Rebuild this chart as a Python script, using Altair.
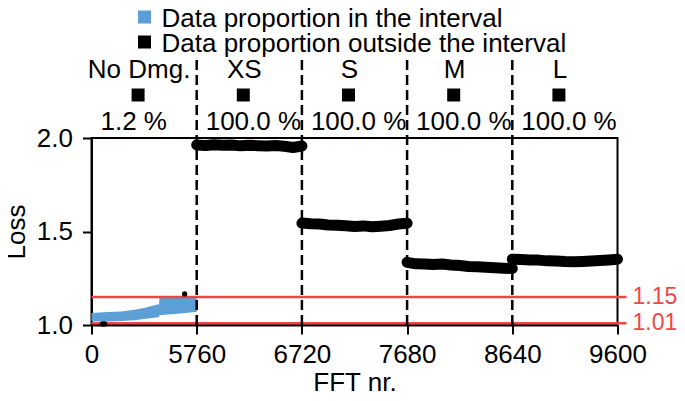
import altair as alt
import pandas as pd

# ---------------- data ----------------
boundaries = [0, 5760, 6720, 7680, 8640, 9600]
categories = ["No Dmg.", "XS", "S", "M", "L"]
pct_outside = [1.2, 100.0, 100.0, 100.0, 100.0]
thresholds = [1.15, 1.01]

# No-damage band (data inside the interval), lower / upper envelope
blue_x = [0, 900, 1630, 2360, 2990, 3540, 3700, 3720, 4175, 4900, 5630, 5760]
blue_lo = [1.020, 1.019, 1.021, 1.025, 1.034, 1.040, 1.043, 1.052, 1.056, 1.061, 1.069, 1.068]
blue_hi = [1.064, 1.069, 1.072, 1.081, 1.094, 1.108, 1.111, 1.148, 1.153, 1.153, 1.153, 1.152]

# No-damage points outside the interval
out_x = [600, 720, 5100]
out_y = [1.006, 1.006, 1.166]

# damaged cases (all outside the interval)
xs_x = [5760, 5840, 5920, 6000, 6080, 6160, 6240, 6320, 6400, 6480, 6560, 6640, 6720]
xs_y = [1.963, 1.960, 1.964, 1.961, 1.963, 1.958, 1.961, 1.959, 1.957, 1.960, 1.956, 1.949, 1.957]
s_x = [6720, 6800, 6880, 6960, 7040, 7120, 7200, 7280, 7360, 7440, 7520, 7600, 7680]
s_y = [1.545, 1.541, 1.540, 1.535, 1.534, 1.531, 1.527, 1.530, 1.525, 1.528, 1.532, 1.540, 1.544]
m_x = [7680, 7760, 7840, 7920, 8000, 8080, 8160, 8240, 8320, 8400, 8480, 8560, 8640]
m_y = [1.335, 1.327, 1.326, 1.323, 1.326, 1.321, 1.318, 1.313, 1.312, 1.309, 1.306, 1.304, 1.302]
l_x = [8640, 8720, 8800, 8880, 8960, 9040, 9120, 9200, 9280, 9360, 9440, 9520, 9600]
l_y = [1.352, 1.350, 1.347, 1.347, 1.343, 1.342, 1.339, 1.338, 1.340, 1.342, 1.345, 1.348, 1.352]

legend_labels = ["Data proportion in the interval", "Data proportion outside the interval"]

# ---------------- styles ----------------
BLUE = "#5b9fd6"
RED = "#f04545"
FONT = "Liberation Sans"
FS = 26
W, H = 526, 187

# ---------------- tables ----------------
blue_df = pd.DataFrame({"fft": blue_x, "lo": blue_lo, "hi": blue_hi})
out_df = pd.DataFrame({"fft": out_x, "loss": out_y})
rows = []
for name, xx, yy in [("XS", xs_x, xs_y), ("S", s_x, s_y), ("M", m_x, m_y), ("L", l_x, l_y)]:
    for a, b in zip(xx, yy):
        rows.append({"seg": name, "fft": a, "loss": b})
dmg_df = pd.DataFrame(rows)
thr_df = pd.DataFrame({"thr": thresholds, "lab": [f"{t:.2f}" for t in thresholds]})
bnd_df = pd.DataFrame({"b": boundaries[1:-1]})
cat_df = pd.DataFrame({
    "cat": categories,
    "start": boundaries[:-1],
    "mid": [(a + b) / 2 for a, b in zip(boundaries[:-1], boundaries[1:])],
    "pct": [f"{p:.1f} %" for p in pct_outside],
})
leg_df = [pd.DataFrame({"lab": [lab]}) for lab in legend_labels]

n = len(boundaries) - 1
xscale = alt.Scale(domain=boundaries, range=[W * i / n for i in range(n + 1)])
yscale = alt.Scale(domain=[1.0, 2.0], nice=False, zero=False)

xax = alt.Axis(values=boundaries, format="d", title="FFT nr.", grid=False,
               tickSize=9, tickWidth=2, domainWidth=2, labelPadding=7,
               labelFlush=False, labelOverlap=False,
               titlePadding=2, labelFontSize=FS, titleFontSize=FS,
               titleFontWeight="normal", labelColor="black", titleColor="black",
               domainColor="black", tickColor="black")
yax = alt.Axis(values=[1.0, 1.5, 2.0], format=".1f", title="Loss", grid=False,
               tickSize=9, tickWidth=2, domainWidth=2, labelPadding=10,
               labelFlush=False,
               titlePadding=7, labelFontSize=FS, titleFontSize=FS,
               titleFontWeight="normal", labelColor="black", titleColor="black",
               domainColor="black", tickColor="black")

band = alt.Chart(blue_df).mark_area(color=BLUE, opacity=1).encode(
    x=alt.X("fft:Q", scale=xscale, axis=xax),
    y=alt.Y("lo:Q", scale=yscale, axis=yax),
    y2="hi:Q",
)

red_rules = alt.Chart(thr_df).mark_rule(color=RED, strokeWidth=2.5, opacity=1).encode(
    y=alt.Y("thr:Q", scale=yscale),
    x=alt.value(0),
    x2=alt.value(W + 9),
)

dmg = alt.Chart(dmg_df).mark_line(color="black", strokeWidth=11, strokeCap="round",
                                   strokeJoin="round").encode(
    x=alt.X("fft:Q", scale=xscale),
    y=alt.Y("loss:Q", scale=yscale),
    detail="seg:N",
)

outs = alt.Chart(out_df).mark_circle(color="black", size=28, opacity=1).encode(
    x=alt.X("fft:Q", scale=xscale),
    y=alt.Y("loss:Q", scale=yscale),
)

dashes = alt.Chart(bnd_df).mark_rule(color="black", strokeWidth=2.5,
                                     strokeDash=[10, 5]).encode(
    x=alt.X("b:Q", scale=xscale),
    y=alt.value(H),
    y2=alt.value(-78),
)

cat_text = alt.Chart(cat_df).mark_text(fontSize=FS, dx=-5, baseline="alphabetic",
                                       align="center", color="black").encode(
    x=alt.X("mid:Q", scale=xscale),
    y=alt.value(-60),
    text="cat:N",
)

squares = alt.Chart(cat_df).mark_square(size=169, xOffset=-6, opacity=1,
                                        color="black").encode(
    x=alt.X("mid:Q", scale=xscale),
    y=alt.value(-43),
)

pct_text = alt.Chart(cat_df).mark_text(fontSize=FS, dx=9, baseline="alphabetic",
                                       align="left", color="black").encode(
    x=alt.X("start:Q", scale=xscale),
    y=alt.value(-8),
    text="pct:N",
)

thr_text = alt.Chart(thr_df).mark_text(fontSize=23, color=RED, align="left",
                                       baseline="middle", dx=15).encode(
    x=alt.value(W),
    y=alt.Y("thr:Q", scale=yscale),
    text="lab:N",
)

# legend (drawn as marks above the plot)
leg_layers = []
for i, (df, col) in enumerate(zip(leg_df, [BLUE, "black"])):
    yc = -121 + 25 * i
    leg_layers.append(alt.Chart(df).mark_square(size=169, opacity=1, color=col).encode(
        x=alt.value(53), y=alt.value(yc)))
    leg_layers.append(alt.Chart(df).mark_text(fontSize=FS, align="left",
                                              baseline="alphabetic", color="black").encode(
        x=alt.value(70), y=alt.value(yc + 9.5), text="lab:N"))

chart = alt.layer(band, red_rules, dmg, outs, dashes, cat_text, squares, pct_text,
                  thr_text, *leg_layers).properties(
    width=W, height=H,
    autosize=alt.AutoSizeParams(type="none"),
    padding={"left": 83.5, "top": 130, "right": 59, "bottom": 68},
).configure(font=FONT).configure_view(stroke="black", strokeWidth=2)

chart.save("out.html", embed_options={"renderer": "svg", "actions": False})
